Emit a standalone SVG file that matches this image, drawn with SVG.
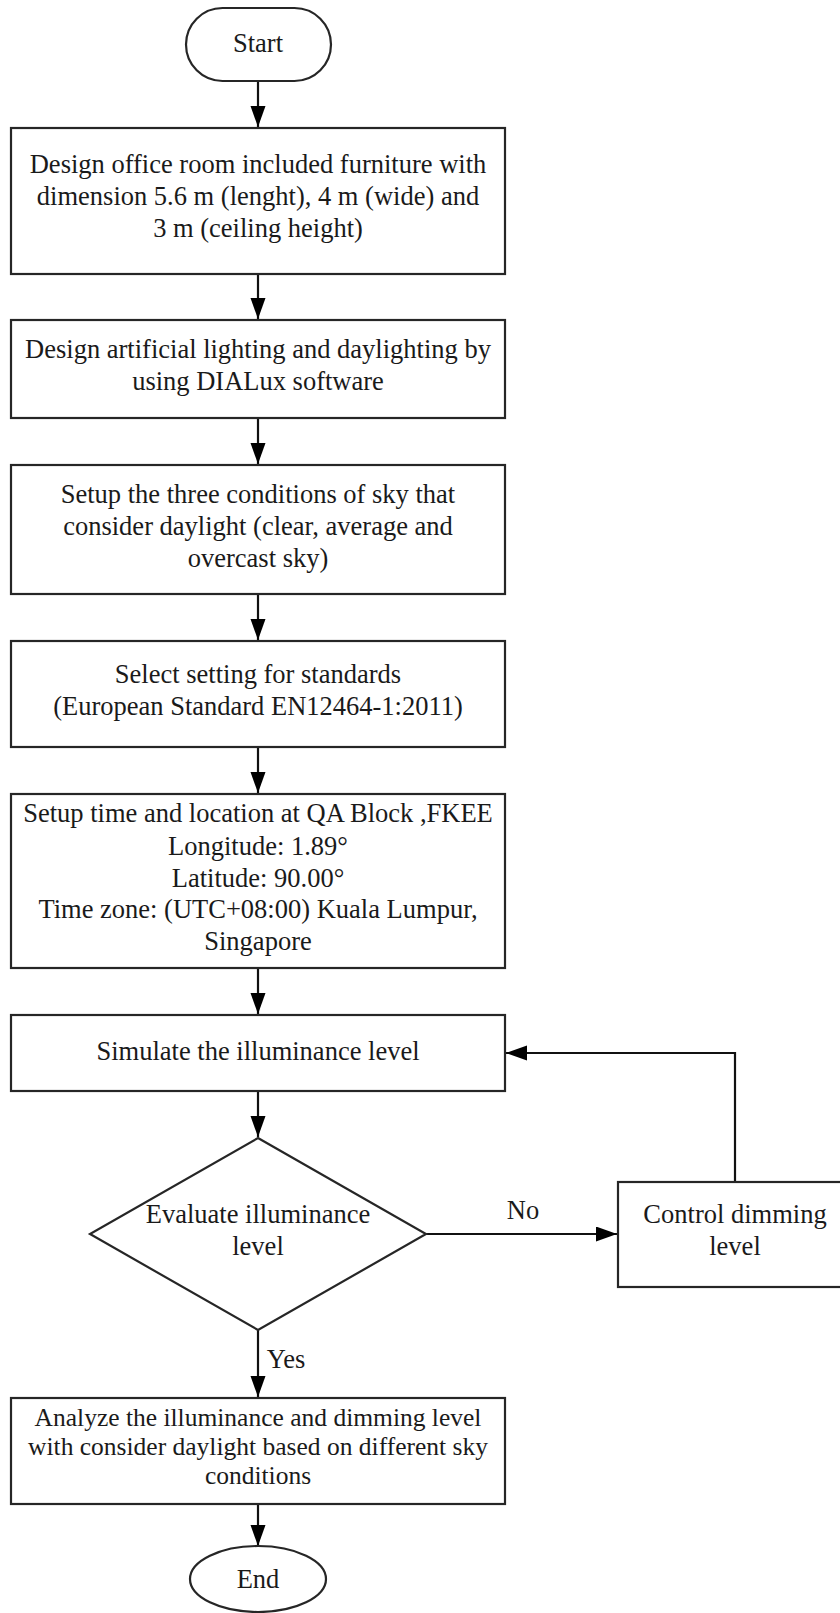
<svg xmlns="http://www.w3.org/2000/svg" width="840" height="1613" viewBox="0 0 840 1613">
<style>
.s{fill:#fff;stroke:#262626;stroke-width:2.2}
.t{font-family:"Liberation Serif","Times New Roman",serif;font-size:26.5px;fill:#1a1a1a;text-anchor:middle}
.c{fill:none;stroke:#111;stroke-width:2.2}
</style>
<defs>
<marker id="a" markerUnits="userSpaceOnUse" markerWidth="22" markerHeight="16" refX="21" refY="7.5" orient="auto">
<path d="M0,0 L21,7.5 L0,15 Z" fill="#000"/>
</marker>
</defs>
<rect width="840" height="1613" fill="#fff"/>
<g id="connectors">
<line class="c" x1="258" y1="81" x2="258" y2="127" marker-end="url(#a)"/>
<line class="c" x1="258" y1="274" x2="258" y2="319" marker-end="url(#a)"/>
<line class="c" x1="258" y1="418" x2="258" y2="464" marker-end="url(#a)"/>
<line class="c" x1="258" y1="594" x2="258" y2="640" marker-end="url(#a)"/>
<line class="c" x1="258" y1="747" x2="258" y2="793" marker-end="url(#a)"/>
<line class="c" x1="258" y1="968" x2="258" y2="1014" marker-end="url(#a)"/>
<line class="c" x1="258" y1="1091" x2="258" y2="1137" marker-end="url(#a)"/>
<line class="c" x1="426" y1="1234" x2="617" y2="1234" marker-end="url(#a)"/>
<polyline class="c" points="735,1182 735,1053 506,1053" marker-end="url(#a)"/>
<line class="c" x1="258" y1="1330" x2="258" y2="1397" marker-end="url(#a)"/>
<line class="c" x1="258" y1="1504" x2="258" y2="1546" marker-end="url(#a)"/>
<text class="t" x="523" y="1219">No</text>
<text class="t" x="286" y="1368">Yes</text>
</g>
<g id="start">
<rect class="s" x="186" y="8" width="145" height="73" rx="36.5"/>
<text class="t" x="258" y="52">Start</text>
</g>
<g id="n1">
<rect class="s" x="11" y="128" width="494" height="146"/>
<text class="t" x="258" y="173">Design office room included furniture with</text>
<text class="t" x="258" y="205">dimension 5.6 m (lenght), 4 m (wide) and</text>
<text class="t" x="258" y="237">3 m (ceiling height)</text>
</g>
<g id="n2">
<rect class="s" x="11" y="320" width="494" height="98"/>
<text class="t" x="258" y="358">Design artificial lighting and daylighting by</text>
<text class="t" x="258" y="390">using DIALux software</text>
</g>
<g id="n3">
<rect class="s" x="11" y="465" width="494" height="129"/>
<text class="t" x="258" y="503">Setup the three conditions of sky that</text>
<text class="t" x="258" y="535">consider daylight (clear, average and</text>
<text class="t" x="258" y="567">overcast sky)</text>
</g>
<g id="n4">
<rect class="s" x="11" y="641" width="494" height="106"/>
<text class="t" x="258" y="683">Select setting for standards</text>
<text class="t" x="258" y="715">(European Standard EN12464-1:2011)</text>
</g>
<g id="n5">
<rect class="s" x="11" y="794" width="494" height="174"/>
<text class="t" x="258" y="822">Setup time and location at QA Block ,FKEE</text>
<text class="t" x="258" y="855">Longitude: 1.89°</text>
<text class="t" x="258" y="887">Latitude: 90.00°</text>
<text class="t" x="258" y="918">Time zone: (UTC+08:00) Kuala Lumpur,</text>
<text class="t" x="258" y="950">Singapore</text>
</g>
<g id="n6">
<rect class="s" x="11" y="1015" width="494" height="76"/>
<text class="t" x="258" y="1060">Simulate the illuminance level</text>
</g>
<g id="decision">
<polygon class="s" points="258,1138 426,1234 258,1330 90,1234"/>
<text class="t" x="258" y="1223">Evaluate illuminance</text>
<text class="t" x="258" y="1255">level</text>
</g>
<g id="control">
<rect class="s" x="618" y="1182" width="234" height="105"/>
<text class="t" x="735" y="1223">Control dimming</text>
<text class="t" x="735" y="1255">level</text>
</g>
<g id="n7">
<rect class="s" x="11" y="1398" width="494" height="106"/>
<text class="t" x="258" y="1426" style="font-size:25.5px">Analyze the illuminance and dimming level</text>
<text class="t" x="258" y="1455" style="font-size:25.5px">with consider daylight based on different sky</text>
<text class="t" x="258" y="1484" style="font-size:25.5px">conditions</text>
</g>
<g id="end">
<ellipse class="s" cx="258" cy="1579" rx="68" ry="33"/>
<text class="t" x="258" y="1588">End</text>
</g>
</svg>
